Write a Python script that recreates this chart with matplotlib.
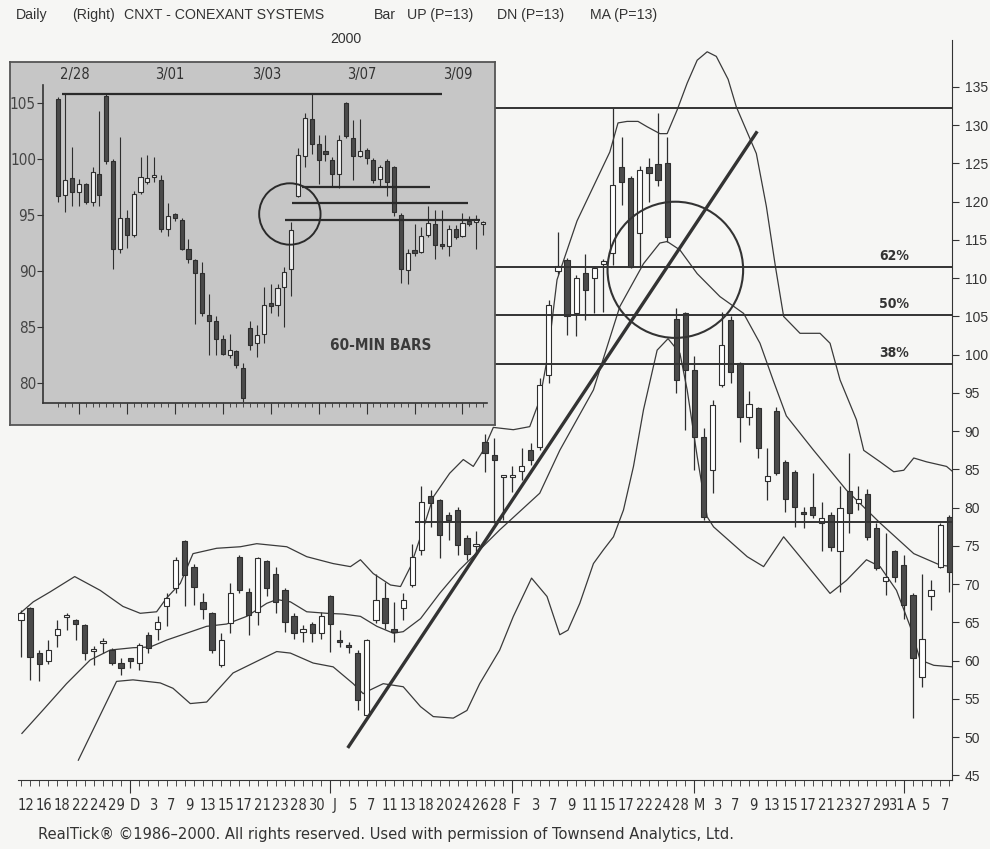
import matplotlib
matplotlib.use("Agg")
import matplotlib.pyplot as plt
from matplotlib import font_manager
from matplotlib.font_manager import FontProperties
from matplotlib.patches import Ellipse
import matplotlib.transforms as mtransforms

# look for a narrow / condensed sans (the scan uses one), else plain Liberation Sans
narrow_file = None
narrow_bold_file = None
for f in font_manager.fontManager.ttflist:
    tag = f.fname.lower()
    if ('narrow' in tag or 'condensed' in tag) and 'sans' in tag and 'mono' not in tag \
            and 'oblique' not in tag and 'italic' not in tag:
        if 'bold' in tag:
            narrow_bold_file = narrow_bold_file or f.fname
        else:
            narrow_file = narrow_file or f.fname


def nfont(size, bold=False):
    fn = narrow_bold_file if bold else narrow_file
    if fn:
        return FontProperties(fname=fn, size=size)
    return FontProperties(family='Liberation Sans', size=size * 0.9,
                          weight='bold' if bold else 'normal')


# ---- daily bars, CNXT, 12 Nov 1999 .. 10 Apr 2000 (index = trading day) ----
opens = [65.3, 66.9, 61.0, 59.9, 63.4, 65.7, 65.3, 64.7, 61.3, 62.3,
         61.4, 59.7, 60.3, 59.7, 63.4, 64.2, 67.1, 69.5, 75.6, 72.3,
         67.7, 66.2, 59.4, 64.9, 73.6, 69.0, 66.4, 73.0, 71.4, 69.3,
         65.8, 63.7, 64.8, 63.6, 68.4, 62.7, 62.0, 61.0, 52.9, 65.3,
         68.2, 64.2, 66.9, 69.9, 74.5, 81.5, 81.0, 79.1, 79.7, 76.0,
         75.0, 88.6, 86.9, 84.0, 84.0, 84.8, 87.5, 88.0, 97.4, 111.0,
         112.4, 105.4, 110.7, 110.0, 111.8, 113.3, 124.6, 123.1, 115.9, 124.6,
         124.9, 125.1, 104.7, 105.4, 98.0, 89.3, 84.9, 96.0, 104.5, 98.9,
         91.9, 93.0, 83.5, 92.6, 86.0, 84.7, 79.4, 80.1, 78.0, 79.0,
         74.3, 82.2, 80.6, 81.8, 77.3, 70.4, 74.3, 72.5, 68.6, 57.9,
         68.5, 72.3, 78.8]
highs = [66.6, 67.0, 61.4, 62.7, 65.3, 66.3, 65.4, 64.8, 61.9, 63.0,
         61.6, 60.4, 60.4, 62.3, 63.8, 65.8, 68.8, 73.6, 75.8, 72.7,
         68.8, 66.4, 63.6, 70.1, 73.8, 69.5, 73.6, 73.2, 72.3, 69.5,
         66.3, 64.7, 65.1, 66.4, 68.6, 64.0, 62.5, 61.4, 62.9, 71.4,
         70.3, 67.7, 68.8, 75.3, 82.8, 82.3, 81.2, 79.5, 80.1, 76.4,
         76.9, 89.7, 89.1, 84.1, 85.4, 87.8, 88.4, 97.0, 107.2, 116.0,
         112.6, 110.4, 113.2, 111.5, 112.5, 132.3, 128.5, 123.3, 124.7, 125.7,
         131.6, 128.5, 106.1, 105.6, 99.8, 90.4, 94.1, 105.6, 105.0, 99.1,
         95.2, 93.2, 87.8, 93.2, 86.2, 84.9, 80.1, 84.5, 80.8, 79.4,
         82.8, 87.1, 82.8, 82.5, 78.0, 76.7, 74.5, 73.8, 68.8, 71.4,
         70.5, 78.0, 79.0]
lows = [60.5, 57.5, 57.3, 59.6, 61.8, 64.0, 62.7, 60.1, 59.4, 61.0,
        59.4, 58.1, 59.0, 58.8, 61.0, 62.7, 64.5, 68.8, 67.1, 67.3,
        65.5, 61.0, 59.2, 63.6, 68.8, 63.4, 64.7, 68.4, 66.2, 63.8,
        62.9, 62.4, 62.5, 62.9, 61.2, 61.8, 61.0, 53.6, 52.7, 64.9,
        64.2, 62.5, 65.3, 69.7, 73.8, 77.5, 73.4, 75.8, 73.8, 73.2,
        74.0, 84.7, 78.0, 78.4, 82.1, 83.6, 85.6, 87.5, 96.3, 110.5,
        102.6, 102.4, 104.5, 105.5, 105.6, 111.7, 119.6, 111.3, 111.5, 120.0,
        122.0, 114.8, 95.0, 90.2, 84.9, 78.4, 81.9, 95.8, 96.3, 88.6,
        90.8, 86.5, 81.0, 84.3, 79.5, 77.5, 77.3, 78.6, 74.3, 74.3,
        69.0, 76.7, 79.7, 75.8, 71.9, 68.6, 70.3, 65.5, 52.5, 56.6,
        66.6, 72.1, 69.0]
closes = [66.3, 60.5, 59.6, 61.4, 64.2, 65.9, 64.8, 61.0, 61.5, 62.6,
          59.7, 59.0, 59.9, 62.1, 61.6, 65.1, 68.2, 73.2, 71.2, 69.7,
          66.7, 61.4, 62.7, 68.8, 69.3, 66.0, 73.4, 69.5, 67.7, 65.1,
          63.6, 64.2, 63.6, 65.8, 64.8, 62.5, 61.8, 54.9, 62.7, 67.9,
          64.9, 63.8, 67.9, 73.6, 80.8, 80.6, 76.4, 78.4, 75.1, 74.0,
          75.2, 87.1, 86.2, 84.1, 84.2, 85.5, 86.2, 96.0, 106.5, 111.6,
          105.0, 110.0, 108.5, 111.3, 112.2, 122.2, 122.6, 111.5, 124.2, 123.8,
          122.8, 115.4, 96.7, 98.0, 89.3, 78.8, 93.4, 101.3, 97.8, 91.9,
          93.6, 87.8, 84.1, 84.5, 81.2, 80.1, 79.2, 79.0, 78.6, 74.9,
          79.9, 79.3, 81.1, 76.2, 72.1, 71.0, 71.0, 67.3, 60.3, 62.9,
          69.2, 77.7, 71.6]

# envelope lines (x = trading-day index)
upper_x = [-0.1, 1.35, 3.2, 5.9, 8.7, 11.2, 13.1, 14.9, 16.0, 17.5, 18.9, 21.5,
           24.1, 25.9, 29.2, 31.4, 34.3, 36.2, 37.3, 38.7, 40.6, 41.7, 42.8, 43.9,
           45.3, 47.1, 48.6, 49.7, 50.8, 51.9, 54.1, 55.9, 57.0, 57.9, 58.9, 61.1,
           62.9, 64.7, 65.6, 66.6, 67.8, 68.8, 70.2, 71.0, 72.1, 73.2, 74.3, 75.4,
           76.4, 77.7, 78.6, 80.8, 81.9, 82.9, 83.8, 85.6, 87.8, 88.9, 90.0, 91.8,
           92.6, 94.4, 95.9, 97.0, 98.1, 99.5, 101.7, 102.4]
upper_v = [66.2, 67.7, 69.0, 71.0, 69.2, 67.1, 66.2, 66.4, 68.2, 70.1, 74.0, 74.7,
           74.9, 75.3, 74.9, 73.6, 72.7, 72.3, 73.2, 71.4, 69.9, 69.7, 72.3, 76.2,
           81.4, 84.5, 86.3, 85.4, 87.5, 90.5, 90.2, 90.6, 94.1, 100.0, 109.8, 117.5,
           122.0, 126.5, 130.3, 130.5, 130.5, 129.8, 128.9, 128.9, 132.0, 135.5, 138.5, 139.6,
           139.0, 136.0, 132.4, 126.3, 119.4, 111.5, 105.0, 102.8, 102.8, 101.5, 96.7, 91.5,
           87.5, 86.0, 84.7, 84.9, 86.5, 86.0, 85.4, 84.7]
mid_x = [0.1, 2.45, 5.0, 7.6, 9.8, 12.3, 14.2, 16.0, 18.2, 20.4, 22.6, 24.8,
         27.0, 28.1, 29.6, 31.4, 33.6, 35.4, 37.3, 39.1, 40.9, 42.0, 43.9, 46.0,
         48.2, 50.4, 52.6, 57.0, 59.2, 62.9, 65.8, 68.4, 70.2, 71.0, 72.4, 74.3,
         76.8, 79.4, 81.2, 82.7, 84.1, 87.1, 90.7, 94.4, 98.1, 101.0, 102.4]
mid_v = [50.5, 53.6, 57.0, 60.1, 61.4, 61.7, 61.8, 62.7, 63.6, 64.5, 64.8, 65.8,
         67.5, 68.0, 67.7, 66.4, 66.2, 66.1, 65.8, 64.5, 63.6, 63.8, 65.5, 68.8,
         71.9, 74.5, 77.1, 81.9, 87.5, 95.4, 106.3, 111.9, 114.6, 114.8, 113.7, 110.6,
         107.6, 105.4, 101.5, 96.5, 92.0, 87.5, 82.3, 78.0, 74.0, 72.5, 72.3]
lower_x = [6.3, 10.5, 12.3, 15.3, 16.7, 18.6, 20.4, 23.3, 28.1, 29.6, 32.1, 34.3,
           36.5, 37.6, 38.4, 39.8, 42.0, 43.9, 45.3, 47.5, 49.0, 50.4, 52.6, 54.1,
           56.1, 57.8, 59.2, 60.1, 61.4, 62.9, 64.0, 65.1, 66.2, 67.3, 68.4, 69.9,
           71.1, 72.4, 73.2, 74.3, 75.4, 76.1, 79.8, 81.6, 83.8, 85.6, 88.9, 90.7,
           92.9, 94.4, 96.2, 97.7, 98.8, 100.3, 102.4]
lower_v = [47.0, 57.3, 57.5, 57.1, 56.4, 54.4, 54.6, 58.4, 61.2, 61.0, 59.7, 59.2,
           57.0, 55.7, 56.2, 57.0, 56.6, 54.0, 52.7, 52.5, 53.5, 57.0, 61.4, 65.8,
           70.8, 68.4, 63.4, 64.0, 67.5, 72.7, 74.5, 76.2, 79.7, 85.4, 92.8, 100.6,
           102.1, 100.2, 95.4, 86.7, 78.8, 77.5, 73.6, 72.3, 76.2, 73.6, 68.8, 70.5,
           73.2, 72.3, 69.2, 64.5, 60.1, 59.4, 59.2]

fib_levels = [132.3, 111.5, 105.2, 98.8]
fib_labels = [('62%', 111.5), ('50%', 105.2), ('38%', 98.8)]
support_level = 78.1
trend_x = [35.9, 80.9]
trend_v = [48.6, 129.2]

day_labels = ['12', '16', '18', '22', '24', '29', 'D', '3', '7', '9', '13', '15', '17',
              '21', '23', '28', '30', 'J', '5', '7', '11', '13', '18', '20', '24', '26',
              '28', 'F', '3', '7', '9', '11', '15', '17', '22', '24', '28', 'M', '3',
              '7', '9', '13', '15', '17', '21', '23', '27', '29', '31', 'A', '5', '7']
day_label_idx = list(range(0, 97, 2)) + [97, 99, 101]
month_idx = [12, 34, 54, 74, 97]

# ---- 60-minute bars (inset) ----
h_open = [105.4, 96.8, 98.3, 97.1, 97.8, 96.2, 98.7, 105.7, 99.8, 92.0,
          94.7, 93.2, 97.1, 98.0, 98.4, 98.1, 93.8, 95.1, 94.6, 92.0,
          91.0, 89.8, 86.1, 85.5, 83.9, 82.5, 82.8, 81.3, 84.9, 83.6,
          84.4, 87.0, 87.0, 88.6, 90.2, 96.7, 100.3, 103.6, 101.4, 100.6,
          99.9, 98.7, 105.0, 101.9, 100.3, 100.8, 99.9, 98.2, 99.8, 99.3,
          95.0, 90.1, 91.9, 91.7, 93.2, 94.2, 92.4, 92.2, 93.8, 93.1,
          94.5, 94.4, 94.2]
h_high = [105.6, 105.8, 101.1, 98.2, 97.9, 99.3, 104.3, 105.8, 100.0, 102.0,
          95.5, 97.2, 100.2, 100.4, 100.2, 98.6, 96.1, 95.2, 94.7, 92.9,
          91.1, 90.8, 87.9, 86.0, 84.3, 84.4, 82.9, 81.8, 85.5, 85.2,
          88.6, 88.8, 88.8, 90.4, 94.4, 101.0, 104.1, 105.8, 102.2, 102.2,
          100.2, 102.2, 105.1, 103.5, 103.6, 101.0, 100.1, 99.5, 100.0, 99.4,
          95.2, 92.0, 94.2, 93.9, 95.8, 95.5, 95.5, 94.1, 94.1, 95.2,
          94.9, 95.0, 94.5]
h_low = [96.2, 95.3, 95.8, 95.8, 96.0, 95.8, 95.8, 99.6, 90.2, 91.6,
         92.1, 93.0, 96.9, 97.8, 98.0, 93.5, 93.1, 94.5, 91.9, 90.7,
         85.3, 86.0, 82.5, 82.5, 82.5, 82.2, 81.3, 78.3, 82.9, 82.3,
         83.6, 86.2, 86.0, 85.0, 87.8, 96.6, 99.3, 100.5, 97.8, 99.8,
         97.5, 97.4, 101.9, 98.1, 100.2, 99.6, 97.9, 97.5, 96.7, 94.9,
         88.9, 88.8, 91.3, 91.6, 93.0, 91.1, 92.0, 91.3, 92.9, 93.0,
         94.0, 92.0, 93.2]
h_close = [96.7, 98.1, 97.1, 97.8, 96.2, 98.9, 96.8, 99.8, 92.0, 94.7,
           93.2, 96.9, 98.4, 98.3, 98.5, 93.8, 94.9, 94.7, 92.0, 91.1,
           89.8, 86.2, 85.5, 83.9, 82.6, 82.9, 81.6, 78.6, 83.4, 84.3,
           87.0, 86.9, 88.5, 89.9, 93.7, 100.4, 103.7, 101.4, 99.9, 100.5,
           98.7, 101.7, 102.1, 100.3, 100.7, 100.1, 98.1, 99.3, 98.0, 95.3,
           90.2, 91.6, 91.6, 93.1, 94.3, 92.3, 92.2, 93.8, 93.0, 94.3,
           94.2, 94.6, 94.4]
h_day_labels = ['2/28', '3/01', '3/03', '3/07', '3/09']
h_day_label_pos = [2.4, 16.3, 30.4, 44.3, 58.3]
h_day_ticks = [3, 10, 17, 24, 31, 38, 45, 52, 59]
h_resist = [(105.8, 0.5, 56.0), (97.5, 35.6, 54.3), (96.1, 34.1, 59.8), (94.6, 33.1, 61.5)]

INK = '#2e2e2e'
DARK = '#4a4a4a'
PAPER = '#f6f6f4'


def candles(ax, o, h, l, c, width, hollow, lw):
    xs = list(range(len(o)))
    ax.vlines(xs, l, h, color=INK, lw=lw, zorder=2)
    bottoms = [min(a, b) for a, b in zip(o, c)]
    heights = [max(abs(b - a), 0.22) for a, b in zip(o, c)]
    fills = [hollow if b > a else DARK for a, b in zip(o, c)]
    ax.bar(xs, heights, width=width, bottom=bottoms, color=fills,
           edgecolor=INK, linewidth=0.8, zorder=3)


fig = plt.figure(figsize=(9.9, 8.49), dpi=100, facecolor=PAPER)
W, H = 990.0, 849.0


def rect(x0, y0, x1, y1):
    return [x0 / W, 1 - y1 / H, (x1 - x0) / W, (y1 - y0) / H]


# ---- main daily chart ----
ax = fig.add_axes(rect(18, 40, 952, 780))
ax.set_facecolor(PAPER)
candles(ax, opens, highs, lows, closes, 0.58, 'white', 0.9)
for xs, vs in [(upper_x, upper_v), (mid_x, mid_v), (lower_x, lower_v)]:
    ax.plot(xs, vs, color='#3a3a3a', lw=0.9, zorder=2.5)
ax.hlines(fib_levels, 52, 102.3, color='#333333', lw=1.4, zorder=4)
ax.hlines(support_level, 43.3, 102.3, color='#333333', lw=1.4, zorder=4)
ax.plot(trend_x, trend_v, color='#333333', lw=2.4, solid_capstyle='butt', zorder=4)
ax.add_patch(Ellipse((71.9, 111.1), 14.9, 17.8, fill=False, ec='#333333', lw=1.5, zorder=4))
for lab, lev in fib_labels:
    ax.text(94.3, lev + 0.5, lab, fontproperties=nfont(10, bold=True),
            color='#333333', va='bottom', ha='left')

ax.set_xlim(-0.33, 102.3)
ax.set_ylim(44.41, 141.14)
for s in ['top', 'left']:
    ax.spines[s].set_visible(False)
for s in ['right', 'bottom']:
    ax.spines[s].set_color('#333333')
ax.yaxis.tick_right()
ax.set_yticks(range(45, 136, 5))
ax.tick_params(axis='y', direction='out', length=5, color='#333333', pad=4,
               labelsize=10, labelcolor='#333333')
for t in ax.get_yticklabels():
    t.set_family('Liberation Sans')
ax.set_xticks(month_idx)
ax.set_xticklabels([])
ax.set_xticks(range(0, 103), minor=True)
ax.tick_params(axis='x', which='major', direction='out', length=9, color='#333333')
ax.tick_params(axis='x', which='minor', direction='out', length=4, color='#333333')
trans = mtransforms.blended_transform_factory(ax.transData, ax.transAxes)
nudge = {96: -0.35, 97: 0.35}
for i, lab in zip(day_label_idx, day_labels):
    ax.text(i + 0.5 + nudge.get(i, 0.0), -0.034, lab, transform=trans, ha='center',
            va='center', fontproperties=nfont(10.5), color='#333333')

# header and footer
hdr = [(16, 'Daily'), (72, '(Right)'), (124, 'CNXT - CONEXANT SYSTEMS'), (374, 'Bar'),
       (407, 'UP (P=13)'), (497, 'DN (P=13)'), (590, 'MA (P=13)')]
for x, s in hdr:
    fig.text(x / W, 1 - 15 / H, s, family='Liberation Sans', fontsize=10.2,
             color='#333333', va='center', ha='left')
fig.text(346 / W, 1 - 39 / H, '2000', family='Liberation Sans', fontsize=10.2,
         color='#333333', va='center', ha='center')
fig.text(38 / W, 1 - 834 / H,
         'RealTick\u00ae \u00a91986\u20132000. All rights reserved. Used with permission of Townsend Analytics, Ltd.',
         fontproperties=nfont(11.8), color='#333333', va='center', ha='left')

# ---- inset: 60-minute bars ----
box = fig.add_axes(rect(10, 62, 495, 425))
box.set_facecolor('#c6c6c6')
box.set_xticks([])
box.set_yticks([])
for s in box.spines.values():
    s.set_color('#555555')
    s.set_linewidth(1.3)

ins = fig.add_axes(rect(43, 85, 487, 403))
ins.set_facecolor('none')
candles(ins, h_open, h_high, h_low, h_close, 0.6, '#efefef', 0.8)
for lev, x0, x1 in h_resist:
    ins.hlines(lev, x0, x1, color='#2a2a2a', lw=1.6, zorder=4)
ins.add_patch(Ellipse((33.8, 95.1), 8.96, 5.49, fill=False, ec='#2a2a2a', lw=1.4, zorder=4))
ins.text(47.0, 83.3, '60-MIN BARS', fontproperties=nfont(11, bold=True),
         color='#3a3a3a', ha='center', va='center')
ins.set_xlim(-2.234, 62.58)
ins.set_ylim(78.19, 106.64)
for s in ['top', 'right']:
    ins.spines[s].set_visible(False)
for s in ['left', 'bottom']:
    ins.spines[s].set_color('#333333')
    ins.spines[s].set_linewidth(1.2)
ins.set_yticks(range(80, 106, 5))
ins.set_yticklabels([str(v) for v in range(80, 106, 5)], fontproperties=nfont(11))
ins.tick_params(axis='y', direction='out', length=4, color='#333333', pad=1,
                labelcolor='#444444')
ins.set_xticks(h_day_ticks)
ins.set_xticklabels([])
ins.set_xticks(range(0, 63), minor=True)
ins.tick_params(axis='x', which='major', direction='out', length=8, color='#333333')
ins.tick_params(axis='x', which='minor', direction='out', length=3, color='#333333')
itrans = mtransforms.blended_transform_factory(ins.transData, ins.transAxes)
for p, lab in zip(h_day_label_pos, h_day_labels):
    ins.text(p, 1.033, lab, transform=itrans, ha='center', va='center',
             fontproperties=nfont(10.5), color='#333333')

fig.savefig('out.png', dpi=100, facecolor=PAPER)
